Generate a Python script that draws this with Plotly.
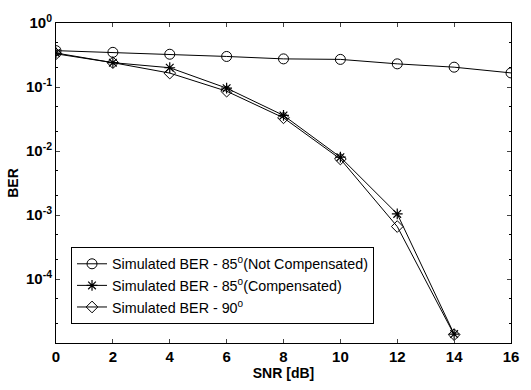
import plotly.graph_objects as go

snr = [0, 2, 4, 6, 8, 10, 12, 14, 16]
ber_not_comp = [0.37, 0.348, 0.325, 0.30, 0.275, 0.27, 0.23, 0.204, 0.166]
snr_b = [0, 2, 4, 6, 8, 10, 12, 14]
ber_comp = [0.34, 0.24, 0.20, 0.096, 0.036, 0.0080, 0.00104, 1.38e-5]
ber_90 = [0.33, 0.24, 0.165, 0.086, 0.033, 0.0075, 0.00066, 1.35e-5]

names = ["Simulated BER - 85<sup>o</sup>(Not Compensated)",
         "Simulated BER - 85<sup>o</sup>(Compensated)",
         "Simulated BER - 90<sup>o</sup>"]
ytickvals = [1, 0.1, 0.01, 0.001, 1e-4]
yticktext = ["10<sup>0</sup>", "10<sup>-1</sup>", "10<sup>-2</sup>", "10<sup>-3</sup>", "10<sup>-4</sup>"]
xtickvals = [0, 2, 4, 6, 8, 10, 12, 14, 16]

fig = go.Figure()
fig.add_trace(go.Scatter(x=snr, y=ber_not_comp, name=names[0], mode="lines+markers",
                         line=dict(color="black", width=1),
                         marker=dict(symbol="circle-open", size=10, color="black", line=dict(width=1))))
fig.add_trace(go.Scatter(x=snr_b, y=ber_comp, name=names[1], mode="lines+markers",
                         line=dict(color="black", width=1),
                         marker=dict(symbol="asterisk-open", size=9, color="black", line=dict(width=1.2))))
fig.add_trace(go.Scatter(x=snr_b, y=ber_90, name=names[2], mode="lines+markers",
                         line=dict(color="black", width=1),
                         marker=dict(symbol="diamond-open", size=9, color="black", line=dict(width=1))))

tickfont = dict(family="Liberation Sans, Arial, sans-serif", size=15, color="black")
fig.update_layout(
    width=531, height=390,
    margin=dict(l=55, r=16, t=17, b=34),
    paper_bgcolor="white", plot_bgcolor="white",
    font=dict(family="Liberation Sans, Arial, sans-serif", color="black"),
    showlegend=True,
    legend=dict(x=0.033, y=0.30, xanchor="left", yanchor="top",
                bordercolor="black", borderwidth=1, bgcolor="white",
                font=dict(size=14.3, family="Liberation Sans, Arial, sans-serif"),
                itemwidth=30, tracegroupgap=0),
    xaxis=dict(range=[0, 16], tickvals=xtickvals, ticktext=["<b>%d</b>" % v for v in xtickvals],
               ticks="inside", ticklen=4, showline=True, linecolor="black", linewidth=1,
               mirror="ticks", showgrid=False, zeroline=False, tickfont=tickfont,
               title=dict(text="<b>SNR [dB]</b>", font=dict(size=14), standoff=3)),
    yaxis=dict(type="log", range=[-5, 0], tickvals=ytickvals,
               ticktext=["<b>" + t + "</b>" for t in yticktext],
               ticks="inside", ticklen=4, showline=True, linecolor="black", linewidth=1,
               mirror="ticks", showgrid=False, zeroline=False, tickfont=tickfont,
               minor=dict(ticks="inside", ticklen=2, tickcolor="black", showgrid=False),
               title=dict(text="<b>BER</b>", font=dict(size=14), standoff=4)),
)
fig.write_html("out.html")
